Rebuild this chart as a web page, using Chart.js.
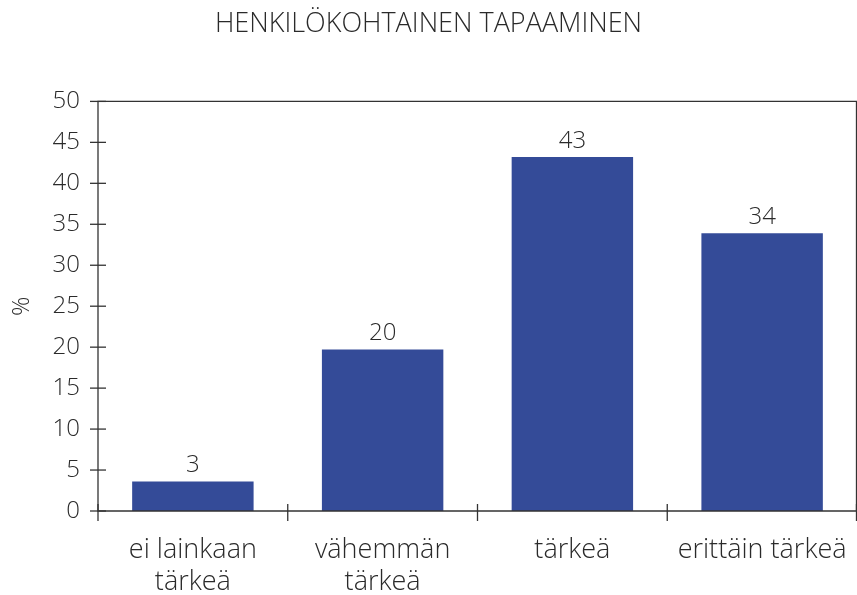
<!DOCTYPE html>
<html>
<head>
<meta charset="utf-8">
<script src="https://cdn.jsdelivr.net/npm/chart.js@4"></script>
<style>
  body { margin: 0; background: #fff; }
  #wrap { width: 857px; height: 595px; }
</style>
</head>
<body>
<div id="wrap"><canvas id="tapaaminen-chart"></canvas></div>
<script>
const categories = [['ei lainkaan', 'tärkeä'], ['vähemmän', 'tärkeä'], 'tärkeä', 'erittäin tärkeä'];
const percentages = [3.6, 19.7, 43.2, 33.9];
const shownValues = ['3', '20', '43', '34'];
const yTicks = [0, 5, 10, 15, 20, 25, 30, 35, 40, 45, 50];

const FONT = '"Open Sans", "DejaVu Sans", sans-serif';
const TEXT = '#2a2a2a';
const AXIS = '#333333';

// frame, tick marks crossing the axes, and the value labels
const decorations = {
    id: 'decorations',
    afterDatasetsDraw(chart) {
        const ctx = chart.ctx;
        const area = chart.chartArea;
        const x = chart.scales.x;
        const y = chart.scales.y;
        ctx.save();
        ctx.strokeStyle = AXIS;
        ctx.lineWidth = 1.3;
        ctx.beginPath();
        ctx.moveTo(area.left, area.top);
        ctx.lineTo(area.right - 0.5, area.top);
        ctx.lineTo(area.right - 0.5, area.bottom);
        ctx.lineTo(area.left, area.bottom);
        ctx.closePath();
        ctx.stroke();

        y.ticks.forEach((t, i) => {
            const py = y.getPixelForTick(i);
            ctx.beginPath();
            ctx.moveTo(area.left - 8, py);
            ctx.lineTo(area.left + 8, py);
            ctx.stroke();
        });
        const step = x.getPixelForValue(1) - x.getPixelForValue(0);
        for (let i = 0; i <= categories.length; i++) {
            const px = i < categories.length ? x.getPixelForValue(i) - step / 2 : area.right - 0.5;
            ctx.beginPath();
            ctx.moveTo(px, area.bottom - 7);
            ctx.lineTo(px, area.bottom + 10);
            ctx.stroke();
        }

        ctx.fillStyle = TEXT;
        ctx.font = '300 24px ' + FONT;
        ctx.textAlign = 'center';
        ctx.textBaseline = 'bottom';
        chart.getDatasetMeta(0).data.forEach((bar, i) => {
            ctx.fillText(shownValues[i], bar.x, bar.y - 4);
        });
        ctx.restore();
    }
};

new Chart(document.getElementById('tapaaminen-chart'), {
    type: 'bar',
    data: {
        labels: categories,
        datasets: [{
            data: percentages,
            backgroundColor: '#344b98',
            categoryPercentage: 1,
            barPercentage: 0.64
        }]
    },
    options: {
        animation: false,
        responsive: true,
        maintainAspectRatio: false,
        layout: { padding: 0 },
        plugins: {
            legend: { display: false },
            tooltip: { enabled: false },
            title: {
                display: true,
                text: 'HENKILÖKOHTAINEN TAPAAMINEN',
                color: TEXT,
                font: { family: FONT, size: 27, weight: '300' },
                padding: { top: 8, bottom: 61 }
            }
        },
        scales: {
            x: {
                grid: { display: false, drawTicks: false },
                border: { display: false },
                ticks: {
                    color: TEXT,
                    font: { family: FONT, size: 27, weight: '300', lineHeight: 1.2 },
                    padding: 23,
                    maxRotation: 0,
                    autoSkip: false
                },
                afterFit: s => {
                    s.height = 84;
                    s.paddingLeft = 0;
                    s.paddingRight = 0;
                }
            },
            y: {
                min: 0,
                max: 50,
                afterBuildTicks: s => { s.ticks = yTicks.map(v => ({ value: v })); },
                grid: { display: false, drawTicks: false },
                border: { display: false },
                ticks: {
                    color: TEXT,
                    font: { family: FONT, size: 24, weight: '300' },
                    padding: 18
                },
                title: {
                    display: true,
                    text: '%',
                    color: TEXT,
                    font: { family: FONT, size: 24, weight: '300' },
                    padding: { top: 8, bottom: 0 }
                },
                afterFit: s => { s.width = 98; }
            }
        }
    },
    plugins: [decorations]
});
</script>
</body>
</html>
